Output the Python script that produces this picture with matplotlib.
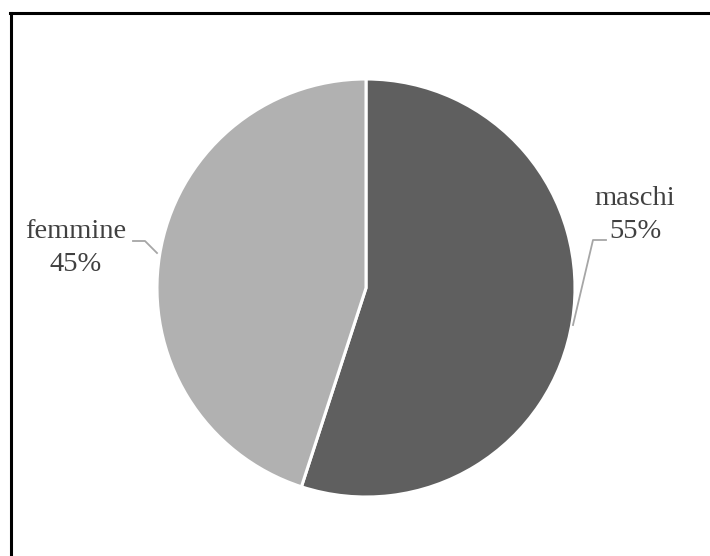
import matplotlib
matplotlib.use('Agg')
import matplotlib.pyplot as plt
import matplotlib.transforms as mtransforms
from matplotlib.lines import Line2D

labels = ['maschi', 'femmine']
shares = [55, 45]
colors = ['#5f5f5f', '#b1b1b1']

W, H = 710, 556
fig = plt.figure(figsize=(W / 100, H / 100), dpi=100)
# pixel coordinates, origin at top left
px = mtransforms.Affine2D().scale(1 / W, -1 / H).translate(0, 1) + fig.transFigure

cx, cy, r = 366, 288, 209
ax = fig.add_axes([(cx - r) / W, (H - cy - r) / H, 2 * r / W, 2 * r / H])
ax.pie(shares, colors=colors, startangle=90, counterclock=False,
       wedgeprops=dict(edgecolor='white', linewidth=2.2))
ax.set_xlim(-1, 1)
ax.set_ylim(-1, 1)
ax.set_aspect('equal')
ax.axis('off')

# frame (only top and left edges fall inside the canvas)
fig.add_artist(Line2D([10, W + 5], [13, 13], transform=px, color='black', lw=2.2))
fig.add_artist(Line2D([11, 11], [13, H + 5], transform=px, color='black', lw=2.2))

txt = dict(family='Liberation Serif', fontsize=20.5, color='#404040',
           ha='center', va='center', linespacing=1.38, transform=px)
fig.text(635, 215, f'{labels[0]}\n{shares[0]}%', **txt)
fig.text(76, 248, f'{labels[1]}\n{shares[1]}%', **txt)

lead = dict(transform=px, color='#a6a6a6', lw=1.3)
fig.add_artist(Line2D([606, 593, 573], [240, 240, 325], **lead))
fig.add_artist(Line2D([133, 145, 157], [241, 241, 253], **lead))

fig.savefig('out.png', dpi=100, facecolor='white')
